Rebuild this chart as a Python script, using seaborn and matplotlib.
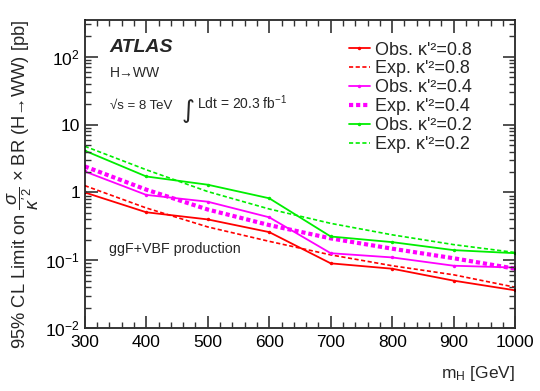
import numpy as np
import pandas as pd
import matplotlib
matplotlib.use('Agg')
import matplotlib.pyplot as plt
import seaborn as sns
from matplotlib.ticker import LogLocator, MultipleLocator, FixedLocator, NullFormatter

### limits
mass = [300, 400, 500, 600, 700, 800, 900, 1000]
obs_08 = [1.0, 0.51, 0.40, 0.26, 0.090, 0.075, 0.050, 0.036]
exp_08 = [1.26, 0.59, 0.31, 0.19, 0.12, 0.083, 0.061, 0.040]
obs_04 = [2.04, 0.92, 0.73, 0.43, 0.127, 0.11, 0.083, 0.078]
exp_04 = [2.42, 1.1, 0.56, 0.33, 0.21, 0.148, 0.107, 0.075]
obs_02 = [4.13, 1.72, 1.30, 0.82, 0.224, 0.185, 0.141, 0.127]
exp_02 = [4.8, 2.16, 1.03, 0.57, 0.35, 0.237, 0.17, 0.13]

labels = ["Obs. κ'²=0.8", "Exp. κ'²=0.8",
          "Obs. κ'²=0.4", "Exp. κ'²=0.4",
          "Obs. κ'²=0.2", "Exp. κ'²=0.2"]
series = [obs_08, exp_08, obs_04, exp_04, obs_02, exp_02]
ytick_vals = [0.01, 0.1, 1, 10, 100]
ytick_labels = ['10$^{-2}$', '10$^{-1}$', '1', '10', '10$^{2}$']

sns.set_style('ticks')
plt.rcParams['font.family'] = ['Liberation Sans', 'DejaVu Sans']
plt.rcParams['mathtext.fontset'] = 'custom'
plt.rcParams['mathtext.rm'] = 'Liberation Sans'
plt.rcParams['mathtext.it'] = 'Liberation Sans:italic'
plt.rcParams['axes.axisbelow'] = False

fig = plt.figure(figsize=(5.4, 3.91), dpi=100)
ax = fig.add_axes([0.157, 0.161, 0.797, 0.788])

# colour, linestyle, linewidth, marker
styles = [('#ff0000', '-', 1.3, 'o'),
          ('#ff0000', (0, (2.5, 1.5)), 1.2, None),
          ('#ff00ff', '-', 1.3, 'o'),
          ('#ff00ff', (0, (1, 0.7)), 3.0, None),
          ('#00ee00', '-', 1.3, 'o'),
          ('#00ee00', (0, (2.5, 1.5)), 1.2, None)]

for lab, vals, (c, ls, lw, mk) in zip(labels, series, styles):
    df = pd.DataFrame({'mH': mass, 'limit': vals})
    sns.lineplot(data=df, x='mH', y='limit', ax=ax, color=c, linestyle=ls,
                 linewidth=lw, marker=mk, markersize=2.5, markeredgewidth=0,
                 label=lab)

ax.set_yscale('log')
ax.set_xlim(300, 1000)
ax.set_ylim(0.01, 350)

ax.xaxis.set_major_locator(MultipleLocator(100))
ax.xaxis.set_minor_locator(MultipleLocator(20))
ax.yaxis.set_major_locator(FixedLocator(ytick_vals))
ax.yaxis.set_minor_locator(LogLocator(base=10, subs=np.arange(2, 10)))
ax.set_yticklabels(ytick_labels)
ax.yaxis.set_minor_formatter(NullFormatter())

ax.tick_params(which='both', direction='in', top=True, right=True,
               bottom=True, left=True, labelsize=12.5,
               color='#333333', labelcolor='black')
ax.tick_params(which='major', length=9, width=1.2)
ax.tick_params(which='minor', length=4.5, width=1.0)
ax.tick_params(axis='x', pad=5)
for s in ax.spines.values():
    s.set_linewidth(1.1)
    s.set_color('black')

ax.set_xlabel('m$_\\mathrm{H}$ [GeV]', fontsize=12.5, loc='right', labelpad=10)
ax.set_ylabel("95% CL Limit on $\\dfrac{\\sigma}{\\kappa'^2}$ × BR (H→WW) [pb]",
              fontsize=13.2, loc='top', labelpad=3)

leg = ax.legend(loc='upper left', bbox_to_anchor=(0.614, 0.93), frameon=False,
                fontsize=13, handlelength=1.15, handletextpad=0.3,
                labelspacing=0.11, borderaxespad=0, borderpad=0)

def axx(px):
    return (px - 85) / 430

ax.text(axx(110), 0.896, 'ATLAS', transform=ax.transAxes, fontsize=14,
        fontweight='bold', fontstyle='italic')
ax.text(axx(110), 0.815, 'H→WW', transform=ax.transAxes, fontsize=10)
ax.text(axx(110), 0.712, '√s = 8 TeV', transform=ax.transAxes, fontsize=9.5)
ax.text(axx(182), 0.682, '∫', transform=ax.transAxes, fontsize=18,
        family=['DejaVu Sans'])
ax.text(axx(197), 0.712, 'Ldt = 20.3 fb$^{-1}$', transform=ax.transAxes, fontsize=10)
ax.text(axx(109), 0.243, 'ggF+VBF production', transform=ax.transAxes, fontsize=10.3)

plt.savefig('out.png', dpi=100)
